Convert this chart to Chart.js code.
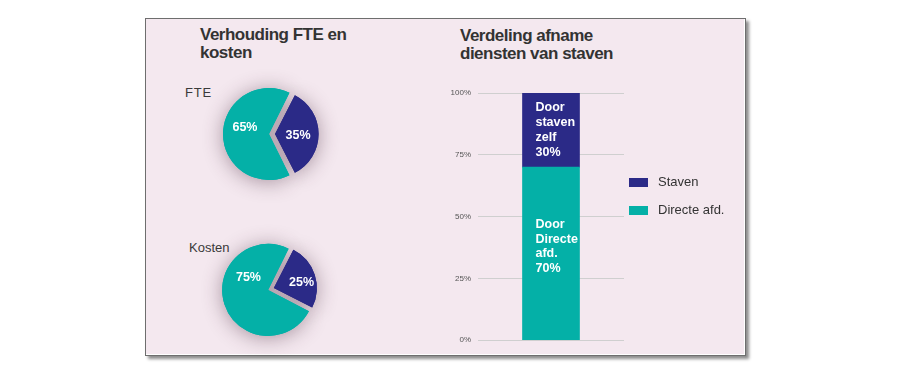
<!DOCTYPE html>
<html>
<head>
<meta charset="utf-8">
<script src="https://cdn.jsdelivr.net/npm/chart.js@4/dist/chart.umd.min.js"></script>
<style>
  html, body { margin: 0; padding: 0; background: #ffffff; width: 900px; height: 378px; overflow: hidden; }
  body { position: relative; font-family: "Liberation Sans", Arial, sans-serif; }
  #panel { position: absolute; left: 145px; top: 18px; width: 599px; height: 336px;
    background: #f4e8ef; border: 1px solid #6e6e6e;
    box-shadow: 3px 3px 3px rgba(0,0,0,0.45), inset -1px -1px 0 #ffffff; }
  .title { position: absolute; font-weight: bold; font-size: 17px; line-height: 18px; color: #333333; letter-spacing: -0.5px; white-space: nowrap; }
  .lbl { position: absolute; font-size: 13px; line-height: 15px; color: #3a3a3a; white-space: nowrap; }
  canvas { position: absolute; }
</style>
</head>
<body>
<div id="panel"></div>
<div class="title" style="left:200px; top:26px;">Verhouding FTE en<br>kosten</div>
<div class="title" style="left:460px; top:27px;">Verdeling afname<br>diensten van staven</div>
<div class="lbl" style="left:185px; top:85px; letter-spacing:0.8px;">FTE</div>
<div class="lbl" style="left:189px; top:240px;">Kosten</div>
<div style="position:absolute; left:192px; top:54px; width:160px; height:160px;"><canvas id="pieFte"></canvas></div>
<div style="position:absolute; left:191px; top:209px; width:160px; height:160px;"><canvas id="pieKosten"></canvas></div>
<div style="position:absolute; left:446px; top:80px; width:299px; height:272px;"><canvas id="bar"></canvas></div>
<script>
// ---- data ----
const pieSeries = ['Staven', 'Directe afd.'];
const fteValues = [35, 65];
const kostenValues = [25, 75];
const barCategories = ['Afname diensten'];
const directeValues = [70];
const stavenValues = [30];
const yTicks = [0, 25, 50, 75, 100];
const directeLabel = ['Door', 'Directe', 'afd.', '70%'];
const stavenLabel = ['Door', 'staven', 'zelf', '30%'];

const NAVY = '#2b2a87';
const TEAL = '#04b0a7';
const FONT = '"Liberation Sans", Arial, sans-serif';

Chart.defaults.font.family = FONT;
Chart.defaults.animation = false;

const pieShadow = {
  id: 'pieShadow',
  beforeDatasetsDraw(chart, args, opts) {
    const ctx = chart.ctx;
    ctx.save();
    ctx.shadowColor = opts.color;
    ctx.shadowBlur = opts.blur;
    ctx.shadowOffsetX = opts.dx;
    ctx.shadowOffsetY = opts.dy;
    chart.getDatasetMeta(0).data.forEach(a => a.draw(ctx));
    ctx.restore();
  }
};

const pieLabels = {
  id: 'pieLabels',
  afterDatasetsDraw(chart, args, opts) {
    const ctx = chart.ctx;
    const meta = chart.getDatasetMeta(0);
    ctx.save();
    ctx.font = 'bold 12.5px ' + FONT;
    ctx.fillStyle = '#ffffff';
    ctx.textAlign = 'center';
    ctx.textBaseline = 'middle';
    meta.data.forEach((arc, i) => {
      const a = opts.angles[i] * Math.PI / 180;
      const d = opts.dist[i];
      const v = chart.data.datasets[0].data[i];
      ctx.fillText(v + '%', arc.x + d * Math.sin(a), arc.y - d * Math.cos(a));
    });
    ctx.restore();
  }
};

function makePie(id, values, angles, dist) {
  return new Chart(document.getElementById(id), {
    type: 'pie',
    data: {
      labels: pieSeries,
      datasets: [{
        data: values,
        backgroundColor: [NAVY, TEAL],
        borderWidth: 0,
        offset: 12,
        hoverOffset: 0
      }]
    },
    options: {
      responsive: true,
      maintainAspectRatio: false,
      rotation: 27,
      layout: { padding: 31 },
      events: [],
      plugins: {
        legend: { display: false },
        tooltip: { enabled: false },
        pieShadow: { color: 'rgba(70,40,60,0.45)', blur: 20, dx: 0, dy: 2 },
        pieLabels: { angles: angles, dist: dist }
      }
    },
    plugins: [pieShadow, pieLabels]
  });
}

makePie('pieFte', fteValues, [94.4, 282.5], [26.1, 27.7]);
makePie('pieKosten', kostenValues, [78.9, 297.5], [31.1, 25.4]);

const barLabels = {
  id: 'barLabels',
  afterDatasetsDraw(chart, args, opts) {
    const ctx = chart.ctx;
    ctx.save();
    ctx.font = 'bold 12.5px ' + FONT;
    ctx.fillStyle = '#ffffff';
    ctx.textAlign = 'left';
    ctx.textBaseline = 'middle';
    chart.data.datasets.forEach((ds, di) => {
      const el = chart.getDatasetMeta(di).data[0];
      const lines = ds.textLines;
      const left = el.x - el.width / 2 + opts.inset;
      const cy = (el.y + el.base) / 2 + opts.shift[di];
      const lh = opts.lineHeight;
      lines.forEach((t, k) => {
        ctx.fillText(t, left, cy + (k - (lines.length - 1) / 2) * lh);
      });
    });
    ctx.restore();
  }
};

const sideLegend = {
  id: 'sideLegend',
  afterDraw(chart, args, opts) {
    const ctx = chart.ctx;
    const area = chart.chartArea;
    ctx.save();
    ctx.font = '13px ' + FONT;
    ctx.textBaseline = 'middle';
    ctx.textAlign = 'left';
    const items = chart.data.datasets.slice().reverse();
    items.forEach((ds, i) => {
      const cy = area.top + opts.top + i * opts.spacing;
      const x = area.right + opts.gap;
      ctx.fillStyle = ds.backgroundColor;
      ctx.fillRect(x, cy - 4.5, 19, 9);
      ctx.fillStyle = '#333333';
      ctx.fillText(ds.label, x + 29, cy);
    });
    ctx.restore();
  }
};

new Chart(document.getElementById('bar'), {
  type: 'bar',
  data: {
    labels: barCategories,
    datasets: [
      { label: 'Directe afd.', data: directeValues, backgroundColor: TEAL, textLines: directeLabel, barThickness: 57, borderWidth: 0 },
      { label: 'Staven', data: stavenValues, backgroundColor: NAVY, textLines: stavenLabel, barThickness: 57, borderWidth: 0 }
    ]
  },
  options: {
    responsive: true,
    maintainAspectRatio: false,
    events: [],
    layout: { padding: { left: 0, right: 121, top: 13, bottom: 9 } },
    scales: {
      x: { stacked: true, display: false },
      y: {
        stacked: true,
        min: 0, max: 100,
        afterFit(scale) { scale.width = 32; },
        afterBuildTicks(scale) { scale.ticks = yTicks.map(v => ({ value: v })); },
        ticks: { callback: v => v + '%', font: { size: 8 }, color: '#555555', padding: 7 },
        grid: { color: '#cfcfcf', lineWidth: 1, drawTicks: false },
        border: { display: false }
      }
    },
    plugins: {
      legend: { display: false },
      tooltip: { enabled: false },
      barLabels: { inset: 13, lineHeight: 14.7, shift: [-7, 0] },
      sideLegend: { top: 89.5, spacing: 28, gap: 5 }
    }
  },
  plugins: [barLabels, sideLegend]
});
</script>
</body>
</html>
